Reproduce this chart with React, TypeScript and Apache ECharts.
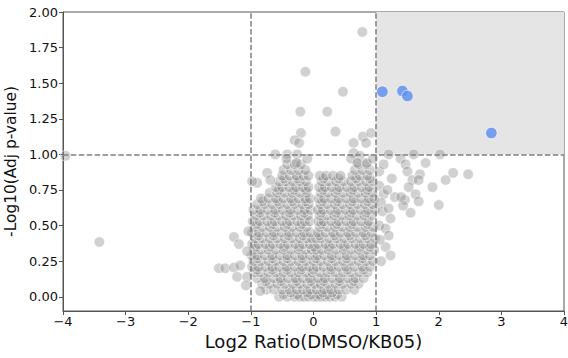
import React, { useEffect, useRef } from "react";
import * as echarts from "echarts";

// x tick values and y tick values
const xTicks = [-4, -3, -2, -1, 0, 1, 2, 3, 4];
const yTicks = [0, 0.25, 0.5, 0.75, 1.0, 1.25, 1.5, 1.75, 2.0];

// Dense cloud, read row by row: [y, x values]
const cloudRows: [number, number[]][] = [
  [0.0, [-0.55, -0.42, -0.3, -0.22, -0.15, -0.08, 0, 0.06, 0.12, 0.19, 0.26, 0.34, 0.45]],
  [0.015, [-0.48, -0.26, -0.04, 0.09, 0.22, 0.38]],
  [0.03, [-0.36, -0.1, 0.15, 0.3]],
  [0.05, [-0.75, -0.63, -0.5, -0.38, -0.27, -0.17, -0.05, 0.05, 0.17, 0.28, 0.4, 0.52, 0.65]],
  [0.09, [-0.82, -0.7, -0.58, -0.46, -0.33, -0.22, -0.1, 0.02, 0.11, 0.23, 0.35, 0.47, 0.6, 0.72]],
  [0.11, [-0.76, -0.52, -0.27, -0.04, 0.16, 0.41, 0.64]],
  [0.13, [-0.9, -0.78, -0.64, -0.53, -0.41, -0.29, -0.17, -0.06, 0.07, 0.18, 0.3, 0.42, 0.55, 0.67, 0.8]],
  [0.17, [-0.95, -0.85, -0.72, -0.6, -0.48, -0.36, -0.24, -0.12, -0.02, 0.1, 0.22, 0.35, 0.47, 0.6, 0.73, 0.86]],
  [0.19, [-0.9, -0.66, -0.42, -0.2, 0.0, 0.28, 0.54, 0.8]],
  [0.21, [-0.98, -0.88, -0.77, -0.66, -0.55, -0.43, -0.3, -0.18, -0.07, 0.05, 0.16, 0.28, 0.4, 0.52, 0.65, 0.78, 0.9]],
  [0.25, [-0.96, -0.84, -0.72, -0.6, -0.48, -0.36, -0.24, -0.12, 0, 0.11, 0.23, 0.35, 0.47, 0.6, 0.72, 0.84, 0.95]],
  [0.27, [-0.9, -0.66, -0.42, -0.18, 0.04, 0.29, 0.53, 0.78]],
  [0.29, [-0.99, -0.9, -0.78, -0.66, -0.54, -0.42, -0.3, -0.18, -0.06, 0.06, 0.17, 0.29, 0.41, 0.53, 0.66, 0.79, 0.9]],
  [0.33, [-0.95, -0.84, -0.72, -0.6, -0.48, -0.36, -0.24, -0.13, -0.03, 0.04, 0.13, 0.24, 0.36, 0.48, 0.6, 0.72, 0.85, 0.97]],
  [0.35, [-0.92, -0.7, -0.47, -0.23, 0.01, 0.25, 0.49, 0.74, 0.9]],
  [0.37, [-0.98, -0.88, -0.77, -0.65, -0.53, -0.41, -0.29, -0.17, -0.06, 0.07, 0.19, 0.31, 0.43, 0.55, 0.67, 0.8, 0.92]],
  [0.41, [-0.93, -0.82, -0.7, -0.58, -0.46, -0.34, -0.22, -0.1, -0.03, 0.04, 0.12, 0.25, 0.37, 0.49, 0.61, 0.74, 0.86, 0.98]],
  [0.43, [-0.88, -0.64, -0.4, -0.17, 0.1, 0.34, 0.58, 0.83]],
  [0.45, [-0.98, -0.87, -0.75, -0.63, -0.51, -0.39, -0.27, -0.15, -0.05, 0.07, 0.19, 0.31, 0.43, 0.55, 0.68, 0.8, 0.93]],
  [0.49, [-0.94, -0.82, -0.7, -0.58, -0.46, -0.34, -0.22, -0.11, 0.1, 0.22, 0.34, 0.46, 0.58, 0.7, 0.83, 0.95]],
  [0.51, [-0.9, -0.66, -0.42, -0.19, 0.13, 0.37, 0.61, 0.86]],
  [0.53, [-0.97, -0.86, -0.74, -0.62, -0.5, -0.38, -0.26, -0.14, -0.06, 0.08, 0.16, 0.28, 0.4, 0.52, 0.64, 0.76, 0.88]],
  [0.57, [-0.92, -0.8, -0.68, -0.56, -0.44, -0.32, -0.2, -0.09, 0.1, 0.21, 0.33, 0.45, 0.57, 0.69, 0.81, 0.93]],
  [0.59, [-0.86, -0.62, -0.38, -0.15, 0.12, 0.36, 0.6, 0.84]],
  [0.61, [-0.96, -0.85, -0.73, -0.61, -0.49, -0.37, -0.25, -0.14, -0.05, 0.07, 0.15, 0.27, 0.39, 0.51, 0.63, 0.75, 0.87, 0.98]],
  [0.65, [-0.9, -0.78, -0.66, -0.54, -0.42, -0.3, -0.18, -0.08, 0.11, 0.22, 0.34, 0.46, 0.58, 0.7, 0.82, 0.94]],
  [0.67, [-0.81, -0.57, -0.33, -0.12, 0.14, 0.38, 0.62, 0.86]],
  [0.69, [-0.84, -0.72, -0.6, -0.48, -0.36, -0.24, -0.13, -0.06, 0.08, 0.17, 0.28, 0.4, 0.52, 0.64, 0.76, 0.88, 0.97]],
  [0.73, [-0.7, -0.58, -0.46, -0.34, -0.22, -0.11, 0.12, 0.23, 0.35, 0.47, 0.59, 0.71, 0.83, 0.94]],
  [0.75, [-0.55, -0.31, -0.12, 0.15, 0.38, 0.62, 0.86]],
  [0.77, [-0.6, -0.5, -0.39, -0.28, -0.17, -0.08, 0.09, 0.18, 0.29, 0.41, 0.53, 0.65, 0.77, 0.89]],
  [0.81, [-0.55, -0.44, -0.33, -0.22, -0.12, 0.13, 0.24, 0.36, 0.48, 0.6, 0.72, 0.84, 0.95]],
  [0.83, [-0.47, -0.25, 0.16, 0.4, 0.68, 0.9]],
  [0.85, [-0.5, -0.38, -0.27, -0.16, -0.08, 0.1, 0.2, 0.31, 0.43, 0.62, 0.74, 0.86]],
  [0.89, [-0.48, -0.36, -0.24, -0.13, 0.66, 0.78, 0.9]],
  [0.93, [-0.42, -0.3, -0.2, 0.72, 0.85]],
];

// Scattered grey points outside the dense cloud: [x, y]
const scatteredPoints: [number, number][] = [
  [-3.96, 0.99], [-3.42, 0.385],
  [-1.51, 0.2], [-1.41, 0.2], [-1.27, 0.205], [-1.17, 0.22], [-1.22, 0.14], [-1.06, 0.14],
  [-1.27, 0.42], [-1.19, 0.37], [-1.06, 0.32], [-1.04, 0.46], [-1.08, 0.08], [-0.85, 0.04],
  [-0.74, 0.87], [-0.69, 0.82], [-0.9, 0.8], [-0.98, 0.81],
  [-0.61, 1.0], [-0.42, 1.0], [-0.26, 1.0], [-0.43, 0.97], [-0.27, 0.94], [-0.1, 0.97],
  [0.78, 1.86], [-0.13, 1.58], [0.47, 1.44], [-0.21, 1.3], [0.22, 1.3], [-0.2, 1.15],
  [0.35, 1.16], [-0.3, 1.1], [-0.23, 1.08], [0.79, 1.125], [0.92, 1.15], [0.84, 1.08],
  [0.64, 1.08], [0.64, 1.01], [0.74, 0.99], [0.6, 0.97], [0.7, 0.94], [0.85, 0.94], [0.95, 0.97],
  [1.05, 0.78], [1.12, 0.72], [1.08, 0.66], [1.18, 0.75], [1.1, 0.6], [1.2, 0.62],
  [1.05, 0.5], [1.15, 0.48], [1.23, 0.55], [1.2, 0.43], [1.15, 0.35], [1.23, 0.29],
  [1.06, 0.4], [1.08, 0.25], [1.05, 0.88], [1.12, 0.93], [1.25, 0.83], [1.3, 0.7],
  [1.2, 1.0], [1.39, 0.97], [1.47, 0.93], [1.5, 0.88], [1.6, 1.0], [1.79, 0.94], [2.02, 1.0],
  [1.7, 0.86], [1.58, 0.82], [1.68, 0.82], [1.52, 0.77], [1.9, 0.77], [2.11, 0.82],
  [2.23, 0.87], [2.47, 0.86], [1.63, 0.72], [1.68, 0.67], [2.0, 0.645], [1.55, 0.59],
  [1.46, 0.68], [1.43, 0.64], [1.4, 0.7],
];

// Significant points (blue)
const significantPoints: [number, number][] = [
  [1.1, 1.44], [1.42, 1.445], [1.5, 1.41], [2.84, 1.15],
];

// Thresholds
const fcThresholds = [-1, 1];
const pThreshold = 1;

export default function App() {
  const ref = useRef<HTMLDivElement>(null);

  useEffect(() => {
    if (!ref.current) return;
    const chart = echarts.init(ref.current, undefined, { renderer: "svg" });

    const greyData: [number, number][] = [];
    cloudRows.forEach(([y, xs]) => xs.forEach((x) => greyData.push([x, y])));
    scatteredPoints.forEach((p) => greyData.push(p));

    const font = "DejaVu Sans";

    chart.setOption({
      animation: false,
      backgroundColor: "#ffffff",
      textStyle: { fontFamily: font },
      grid: {
        left: 63,
        right: 4,
        top: 12,
        bottom: 47,
        outerBoundsMode: "none",
        containLabel: false,
        show: true,
        borderColor: "#555",
        borderWidth: 1,
      },
      xAxis: {
        type: "value",
        min: -4,
        max: 4,
        interval: 1,
        name: "Log2 Ratio(DMSO/KB05)",
        nameLocation: "middle",
        nameGap: 20,
        nameTextStyle: { fontSize: 18, color: "#111", fontFamily: font },
        axisLine: { show: true, onZero: false, lineStyle: { color: "#555", width: 1 } },
        axisTick: { show: true, length: 4, lineStyle: { color: "#555" } },
        axisLabel: {
          fontSize: 13,
          color: "#111",
          margin: 4,
          fontFamily: font,
          formatter: (v: number) => (v < 0 ? "\u2212" + Math.abs(v) : String(v)),
          customValues: xTicks,
        },
        splitLine: { show: false },
      },
      yAxis: {
        type: "value",
        min: -0.1,
        max: 2.0,
        name: "-Log10(Adj p-value)",
        nameLocation: "middle",
        nameGap: 38,
        nameTextStyle: { fontSize: 15.4, color: "#111", fontFamily: font },
        axisLine: { show: true, onZero: false, lineStyle: { color: "#555", width: 1 } },
        axisTick: { show: true, length: 4, lineStyle: { color: "#555" }, customValues: yTicks },
        axisLabel: {
          fontSize: 13,
          color: "#111",
          margin: 5,
          fontFamily: font,
          customValues: yTicks,
          formatter: (v: number) => v.toFixed(2),
        },
        splitLine: { show: false },
      },
      series: [
        {
          type: "scatter",
          data: [],
          z: 1,
          silent: true,
          markArea: {
            silent: true,
            itemStyle: { color: "#e5e5e5" },
            data: [[{ coord: [1, pThreshold] }, { coord: [4, 2] }]],
          },
        },
        {
          type: "scatter",
          data: greyData,
          z: 2,
          clip: false,
          symbolSize: 10.5,
          itemStyle: {
            color: "rgba(140,140,140,0.5)",
            borderColor: "rgba(255,255,255,0.75)",
            borderWidth: 0.9,
          },
        },
        {
          type: "scatter",
          data: significantPoints,
          z: 3,
          symbolSize: 11.5,
          itemStyle: {
            color: "rgb(90,140,238)",
            borderColor: "#ffffff",
            borderWidth: 0.8,
          },
        },
        {
          type: "scatter",
          data: [],
          z: 4,
          silent: true,
          markLine: {
            silent: true,
            symbol: "none",
            label: { show: false },
            lineStyle: { color: "#808080", type: [5.5, 2.4], width: 1.5 },
            data: [
              ...fcThresholds.map((x) => ({ xAxis: x })),
              { yAxis: pThreshold },
            ],
          },
        },
      ],
    });

    return () => chart.dispose();
  }, []);

  return (
    <div
      ref={ref}
      style={{ position: "absolute", left: 0, top: 0, width: 568, height: 358 }}
    />
  );
}
